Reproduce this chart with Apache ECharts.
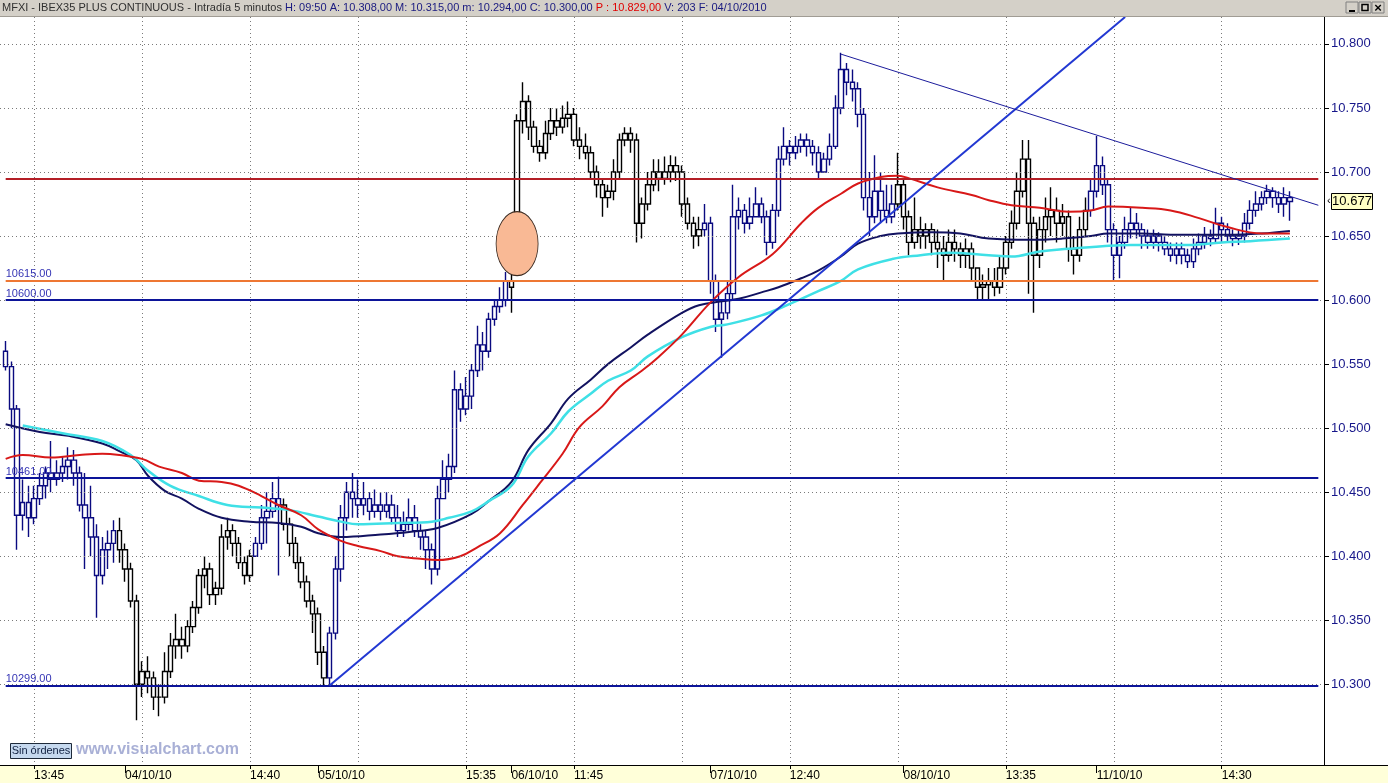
<!DOCTYPE html>
<html>
<head>
<meta charset="utf-8">
<script src="https://cdn.jsdelivr.net/npm/echarts@6/dist/echarts.min.js"></script>
<style>
html,body{margin:0;padding:0;background:#fff;}
#c{width:1388px;height:783px;}
</style>
</head>
<body>
<div id="c"></div>
<script>
// ---- data (15-minute aggregation) ----
const START = 1;          // first category index carrying a bar
const N_CAT = 234;        // category slots across the plot
const openP  = [10560,10548,10515,10432,10442,10430,10445,10455,10465,10460,10465,10470,10475,10465,10440,10430,10415,10385,10405,10410,10420,10405,10390,10365,10300,10310,10305,10290,10290,10310,10330,10335,10330,10345,10360,10385,10390,10370,10375,10415,10420,10410,10395,10385,10400,10410,10430,10435,10445,10440,10425,10410,10395,10380,10365,10355,10325,10305,10340,10390,10430,10450,10445,10440,10445,10435,10440,10435,10440,10430,10420,10425,10430,10420,10415,10405,10390,10445,10460,10470,10530,10515,10525,10545,10565,10560,10585,10595,10600,10615,10668,10740,10755,10735,10720,10715,10730,10740,10735,10742,10745,10725,10720,10715,10700,10690,10680,10685,10700,10725,10730,10725,10660,10675,10690,10700,10695,10700,10705,10700,10675,10660,10650,10655,10660,10615,10585,10590,10605,10665,10670,10660,10665,10675,10665,10645,10670,10710,10720,10715,10720,10725,10720,10715,10700,10710,10720,10750,10780,10770,10765,10745,10680,10665,10685,10670,10665,10675,10690,10665,10645,10655,10650,10655,10645,10640,10635,10645,10640,10635,10640,10625,10610,10612,10615,10610,10625,10645,10660,10685,10710,10660,10635,10655,10665,10670,10660,10665,10640,10635,10655,10670,10685,10705,10690,10655,10635,10645,10655,10660,10655,10650,10645,10650,10645,10640,10635,10640,10635,10630,10640,10645,10650,10648,10660,10655,10650,10648,10650,10660,10670,10675,10680,10685,10680,10675,10680];
const closeP = [10548,10515,10432,10442,10430,10445,10455,10465,10460,10465,10470,10475,10465,10440,10430,10415,10385,10405,10410,10420,10405,10390,10365,10300,10310,10305,10290,10290,10310,10330,10335,10330,10345,10360,10385,10390,10370,10375,10415,10420,10410,10395,10385,10400,10410,10430,10435,10445,10440,10425,10410,10395,10380,10365,10355,10325,10305,10340,10390,10430,10450,10445,10440,10445,10435,10440,10435,10440,10430,10420,10425,10430,10420,10415,10405,10390,10445,10460,10470,10530,10515,10525,10545,10565,10560,10585,10595,10600,10615,10610,10740,10755,10735,10720,10715,10730,10740,10735,10742,10745,10725,10720,10715,10700,10690,10680,10685,10700,10725,10730,10725,10660,10675,10690,10700,10695,10700,10705,10700,10675,10660,10650,10655,10660,10615,10585,10590,10605,10665,10670,10660,10665,10675,10665,10645,10670,10710,10720,10715,10720,10725,10720,10715,10700,10710,10720,10750,10780,10770,10765,10745,10680,10665,10685,10670,10665,10675,10690,10665,10645,10655,10650,10655,10645,10640,10635,10645,10640,10635,10640,10625,10610,10612,10615,10610,10625,10645,10660,10685,10710,10660,10635,10655,10665,10670,10660,10665,10640,10635,10655,10670,10685,10705,10690,10655,10635,10645,10655,10660,10655,10650,10645,10650,10645,10640,10635,10640,10635,10630,10640,10645,10650,10648,10660,10655,10650,10648,10650,10660,10670,10675,10680,10685,10680,10675,10680,10677];
const lowP   = [10545,10500,10405,10420,10415,10425,10440,10445,10450,10455,10458,10460,10455,10435,10390,10400,10352,10378,10390,10395,10395,10380,10360,10272,10290,10293,10280,10275,10285,10305,10320,10320,10325,10340,10355,10375,10362,10362,10370,10405,10400,10390,10378,10380,10400,10405,10410,10430,10385,10420,10400,10390,10375,10360,10340,10315,10298,10298,10335,10380,10420,10430,10430,10432,10428,10430,10428,10430,10425,10415,10415,10420,10415,10405,10390,10378,10385,10445,10450,10465,10505,10510,10515,10540,10545,10555,10580,10590,10595,10590,10665,10730,10725,10715,10708,10710,10725,10728,10730,10735,10720,10710,10710,10695,10680,10665,10672,10678,10695,10720,10715,10645,10648,10670,10685,10685,10690,10692,10693,10665,10655,10640,10642,10650,10605,10575,10555,10585,10600,10655,10652,10655,10665,10660,10635,10640,10665,10705,10705,10710,10715,10712,10705,10695,10700,10705,10718,10745,10760,10755,10735,10670,10650,10660,10660,10660,10660,10670,10655,10635,10640,10640,10640,10635,10625,10615,10630,10630,10625,10625,10615,10600,10600,10600,10603,10605,10620,10640,10655,10680,10605,10590,10625,10645,10650,10645,10650,10630,10620,10630,10650,10665,10680,10682,10645,10615,10617,10640,10648,10648,10640,10640,10640,10638,10635,10630,10628,10628,10625,10625,10635,10640,10642,10645,10645,10645,10642,10643,10645,10655,10665,10670,10675,10672,10668,10665,10662];
const highP  = [10568,10552,10518,10460,10455,10455,10465,10470,10490,10475,10478,10485,10483,10470,10465,10455,10425,10415,10420,10428,10430,10410,10395,10370,10318,10322,10310,10300,10325,10340,10355,10345,10350,10365,10390,10400,10395,10380,10425,10430,10425,10415,10400,10405,10415,10440,10450,10458,10462,10445,10430,10415,10400,10385,10370,10360,10330,10345,10400,10440,10458,10465,10460,10458,10450,10452,10450,10450,10448,10440,10435,10445,10440,10425,10420,10410,10455,10475,10480,10545,10535,10540,10550,10580,10575,10590,10600,10610,10622,10620,10745,10770,10760,10740,10725,10740,10750,10750,10752,10755,10750,10735,10730,10720,10705,10695,10690,10710,10730,10735,10735,10730,10680,10700,10710,10710,10712,10713,10712,10705,10680,10665,10665,10675,10665,10620,10600,10615,10690,10680,10675,10680,10688,10680,10670,10675,10720,10735,10725,10728,10730,10730,10725,10720,10715,10730,10760,10793,10785,10780,10770,10750,10700,10713,10700,10690,10690,10715,10695,10670,10680,10665,10660,10660,10655,10650,10655,10655,10645,10648,10645,10625,10620,10625,10625,10635,10650,10670,10700,10725,10725,10665,10665,10680,10688,10680,10675,10670,10650,10665,10680,10695,10728,10712,10695,10660,10650,10665,10672,10668,10660,10655,10655,10653,10650,10645,10645,10645,10640,10648,10652,10657,10655,10672,10665,10660,10655,10655,10668,10678,10685,10685,10690,10688,10685,10688,10685];
// moving averages: [category index, value]
const maNavy = [[1,10503],[7,10497],[12,10494],[18,10488],[21,10482],[24,10475],[26,10463],[29,10451],[32,10445],[35,10437],[39,10430],[44,10427],[49,10426],[53,10423],[56,10418],[60,10415],[67,10417],[72,10419],[77,10422],[83,10433],[86,10443],[90,10458],[93,10483],[97,10504],[100,10523],[104,10538],[107,10550],[111,10563],[114,10573],[120,10590],[123,10596],[127,10599],[130,10601],[134,10606],[137,10610],[141,10617],[144,10623],[148,10634],[151,10644],[155,10650],[158,10652],[164,10653],[169,10652],[174,10648],[181,10647],[187,10648],[192,10650],[195,10652],[201,10652],[206,10651],[211,10651],[216,10651],[222,10652],[227,10654]];
const maCyan = [[4,10502],[11,10496],[18,10490],[23,10479],[26,10467],[30,10455],[35,10447],[40,10440],[46,10438],[51,10436],[56,10431],[60,10427],[63,10425],[70,10426],[76,10427],[79,10430],[83,10435],[86,10443],[90,10455],[93,10478],[97,10496],[100,10513],[104,10527],[107,10537],[111,10545],[114,10556],[120,10571],[125,10579],[128,10581],[134,10588],[139,10597],[144,10607],[148,10615],[151,10624],[157,10632],[162,10635],[167,10637],[174,10635],[178,10634],[183,10638],[188,10640],[194,10642],[199,10643],[204,10643],[209,10643],[215,10645],[220,10646],[227,10648]];
const maRed  = [[1,10476],[4,10479],[9,10477],[14,10479],[18,10480],[21,10479],[25,10476],[28,10470],[32,10465],[35,10459],[39,10458],[42,10455],[46,10447],[49,10440],[53,10432],[56,10421],[60,10412],[63,10408],[67,10404],[70,10400],[74,10398],[77,10397],[81,10400],[84,10407],[88,10418],[92,10440],[95,10457],[99,10480],[102,10501],[106,10517],[109,10532],[113,10545],[116,10556],[120,10573],[125,10598],[130,10618],[136,10636],[141,10660],[144,10672],[148,10683],[151,10691],[155,10696],[158,10697],[160,10695],[165,10688],[171,10682],[174,10678],[178,10674],[183,10672],[188,10669],[192,10670],[195,10673],[201,10672],[206,10670],[211,10664],[216,10657],[222,10652],[227,10652]];
// horizontal levels
const levelValues = [10695, 10615, 10600, 10461, 10299];
const levelLabels = ['', '10615.00', '10600.00', '10461.00', '10299.00'];
// trend lines [[idx,value],[idx,value]]
const upTrend = [[58,10299],[198,10821]];
const downTrend = [[148,10792],[232,10674]];
// gap marker
const gapMark = [91, 10644];
// axes
const yTicks = [10300,10350,10400,10450,10500,10550,10600,10650,10700,10750,10800];
const gridIdx = [6,25,44,63,82,101,120,139,158,177,196,215];
const timeIdx = [6,44,82,101,139,177,215];
const timeText = ['13:45','14:40','15:35','11:45','12:40','13:35','14:30'];
const dayIdx = [22,56,90,125,159,193];
const dayText = ['04/10/10','05/10/10','06/10/10','07/10/10','08/10/10','11/10/10'];
const blackRanges = [[21,45],[50,58],[90,124],[158,192]];
const lastClose = closeP[closeP.length-1];

// ---- build ----
const FONT = 'Liberation Sans, Arial, sans-serif';
const NAVY = '#0a0a80';
const cats = Array.from({length:N_CAT}, (_, i) => String(i));
function regimeColor(i){
  for (const r of blackRanges) if (i >= r[0] && i < r[1]) return '#000000';
  return NAVY;
}
const candles = cats.map((_, i) => {
  const k = i - START;
  if (k < 0 || k >= openP.length) return '-';
  const c = regimeColor(i);
  return {value:[openP[k], closeP[k], lowP[k], highP[k]],
    itemStyle:{color:'#ffffff', color0:c, borderColor:c, borderColor0:c, borderWidth:1.4}};
});

const gridLines = yTicks.map(v => ({yAxis:v}));
const levelColors = ['#b41e26','#ee7733','#0c1499','#0c1499','#0c1499'];
const levelLines = levelValues.map((v, j) => [
  {coord:[1, v], lineStyle:{color:levelColors[j], width:2, type:'solid'},
   label:{show: levelLabels[j] !== '', position:'insideStartTop', formatter: levelLabels[j],
          color:'#3535b5', fontSize:11, fontFamily:FONT, distance:[0,1]}},
  {coord:[232, v]}
]);
const trendLines = [
  [{coord:upTrend[0], lineStyle:{color:'#2238d2', width:2, type:'solid'}, label:{show:false}}, {coord:upTrend[1]}],
  [{coord:downTrend[0], lineStyle:{color:'#1c1c9c', width:1, type:'solid'}, label:{show:false}}, {coord:downTrend[1]}]
];

const chart = echarts.init(document.getElementById('c'), null, {renderer:'canvas'});
const option = {
  animation:false,
  backgroundColor:'#ffffff',
  grid:{left:0, right:64, top:17, bottom:18, containLabel:false},
  xAxis:[
    {type:'category', data:cats, boundaryGap:false, position:'bottom',
     axisLine:{show:true, lineStyle:{color:'#000', width:1}},
     axisTick:{show:true, interval:(i)=>timeIdx.includes(i), length:4, lineStyle:{color:'#000'}},
     axisLabel:{show:true, interval:(i)=>timeIdx.includes(i), formatter:(v,i)=>timeText[timeIdx.indexOf(i)] || '',
                align:'left', margin:5, fontSize:12, color:'#000', fontFamily:FONT},
     splitLine:{show:true, interval:(i)=>gridIdx.includes(i), lineStyle:{color:'#7a7a7a', width:1, type:[1,3]}}},
    {type:'category', data:cats, boundaryGap:false, position:'bottom', gridIndex:0,
     axisLine:{show:false},
     axisTick:{show:true, interval:(i)=>dayIdx.includes(i), length:8, lineStyle:{color:'#000'}},
     axisLabel:{show:true, interval:(i)=>dayIdx.includes(i), formatter:(v,i)=>dayText[dayIdx.indexOf(i)] || '',
                align:'left', margin:5, fontSize:12, color:'#000', fontFamily:FONT},
     splitLine:{show:false}}
  ],
  yAxis:{type:'value', position:'right', min:10237, max:10821, scale:true,
     axisLine:{show:true, lineStyle:{color:'#000', width:1}},
     axisTick:{show:true, customValues:yTicks, length:5, lineStyle:{color:'#000'}},
     axisLabel:{show:true, customValues:yTicks, formatter:(v)=>(v/1000).toFixed(3), color:'#16168a',
                fontSize:13, margin:7, fontFamily:FONT},
     splitLine:{show:false}},
  series:[
    {type:'line', name:'grid', data:[], z:1, silent:true,
     markLine:{silent:true, symbol:['none','none'], animation:false,
       lineStyle:{color:'#7a7a7a', width:1, type:[1,3]}, label:{show:false}, data:gridLines}},
    {type:'candlestick', name:'MFXI', data:candles, barWidth:5, z:2, silent:true,
     markPoint:{silent:true, animation:false, data:[{coord:gapMark, symbol:'circle', symbolSize:[42,64],
       itemStyle:{color:'#f9b995', borderColor:'#3b2a20', borderWidth:1}, label:{show:false}}]}},
    {type:'line', name:'MA navy', data:maNavy, smooth:0.4, showSymbol:false, z:3, silent:true,
     lineStyle:{color:'#121260', width:2}},
    {type:'line', name:'MA cyan', data:maCyan, smooth:0.4, showSymbol:false, z:3, silent:true,
     lineStyle:{color:'#3fe0e6', width:2.5}},
    {type:'line', name:'MA red', data:maRed, smooth:0.4, showSymbol:false, z:4, silent:true,
     lineStyle:{color:'#d81818', width:2}},
    {type:'line', name:'levels', data:[], z:5, silent:true,
     markLine:{silent:true, symbol:['none','none'], animation:false, data:levelLines.concat(trendLines)}}
  ]
};
chart.setOption(option);

const yTag = chart.convertToPixel({yAxisIndex:0}, lastClose);
chart.setOption({graphic:[
  {type:'rect', shape:{x:0, y:0, width:1388, height:16}, style:{fill:'#d4d0c8'}, z:10},
  {type:'line', shape:{x1:0, y1:16.5, x2:1388, y2:16.5}, style:{stroke:'#a09c94', lineWidth:1}, z:10},
  {type:'text', x:2, y:8, z:11, style:{
    text:'{k|MFXI - IBEX35 PLUS CONTINUOUS - Intradía 5 minutos} {n|H: 09:50 A: 10.308,00 M: 10.315,00 m: 10.294,00 C: 10.300,00} {r|P : 10.829,00} {n|V: 203 F: 04/10/2010}',
    verticalAlign:'middle', font:'11px '+FONT,
    rich:{k:{fill:'#303030', fontSize:11, fontFamily:FONT}, n:{fill:'#1a1a80', fontSize:11, fontFamily:FONT}, r:{fill:'#e00000', fontSize:11, fontFamily:FONT}}}},
  {type:'rect', shape:{x:1346, y:2, width:12, height:11}, style:{fill:'#d4d0c8', stroke:'#808080'}, z:11},
  {type:'rect', shape:{x:1359, y:2, width:12, height:11}, style:{fill:'#d4d0c8', stroke:'#808080'}, z:11},
  {type:'rect', shape:{x:1372, y:2, width:12, height:11}, style:{fill:'#d4d0c8', stroke:'#808080'}, z:11},
  {type:'line', shape:{x1:1349, y1:11, x2:1355, y2:11}, style:{stroke:'#000', lineWidth:2}, z:12},
  {type:'rect', shape:{x:1362, y:4.5, width:6, height:6}, style:{fill:'none', stroke:'#000', lineWidth:1.5}, z:12},
  {type:'text', x:1378, y:8, z:12, style:{text:'×', font:'bold 13px '+FONT, fill:'#000', align:'center', verticalAlign:'middle'}},
  {type:'rect', shape:{x:0, y:765.5, width:1388, height:18}, style:{fill:'#ffffd9'}, z:-1},
  {type:'line', shape:{x1:0, y1:765.5, x2:1388, y2:765.5}, style:{stroke:'#000', lineWidth:1}, z:10},
  {type:'rect', shape:{x:10.5, y:743.5, width:61, height:15}, style:{fill:'#c6d9ef', stroke:'#1e2a3a', lineWidth:1}, z:10},
  {type:'text', x:41, y:751, z:11, style:{text:'Sin órdenes', font:'11px '+FONT, fill:'#102040', align:'center', verticalAlign:'middle'}},
  {type:'text', x:76, y:750, z:11, style:{text:'www.visualchart.com', font:'bold 16px '+FONT, fill:'#a9b0d6', verticalAlign:'middle'}},
  {type:'text', x:1327, y:yTag, z:11, style:{text:'‹', font:'11px '+FONT, fill:'#000', verticalAlign:'middle'}},
  {type:'rect', shape:{x:1331.5, y:Math.round(yTag)-7.5, width:41, height:16}, style:{fill:'#ffffc4', stroke:'#000', lineWidth:1}, z:11},
  {type:'text', x:1352, y:Math.round(yTag)+0.5, z:12, style:{text:(lastClose/1000).toFixed(3), font:'13px '+FONT, fill:'#000', align:'center', verticalAlign:'middle'}}
]});
</script>
</body>
</html>
